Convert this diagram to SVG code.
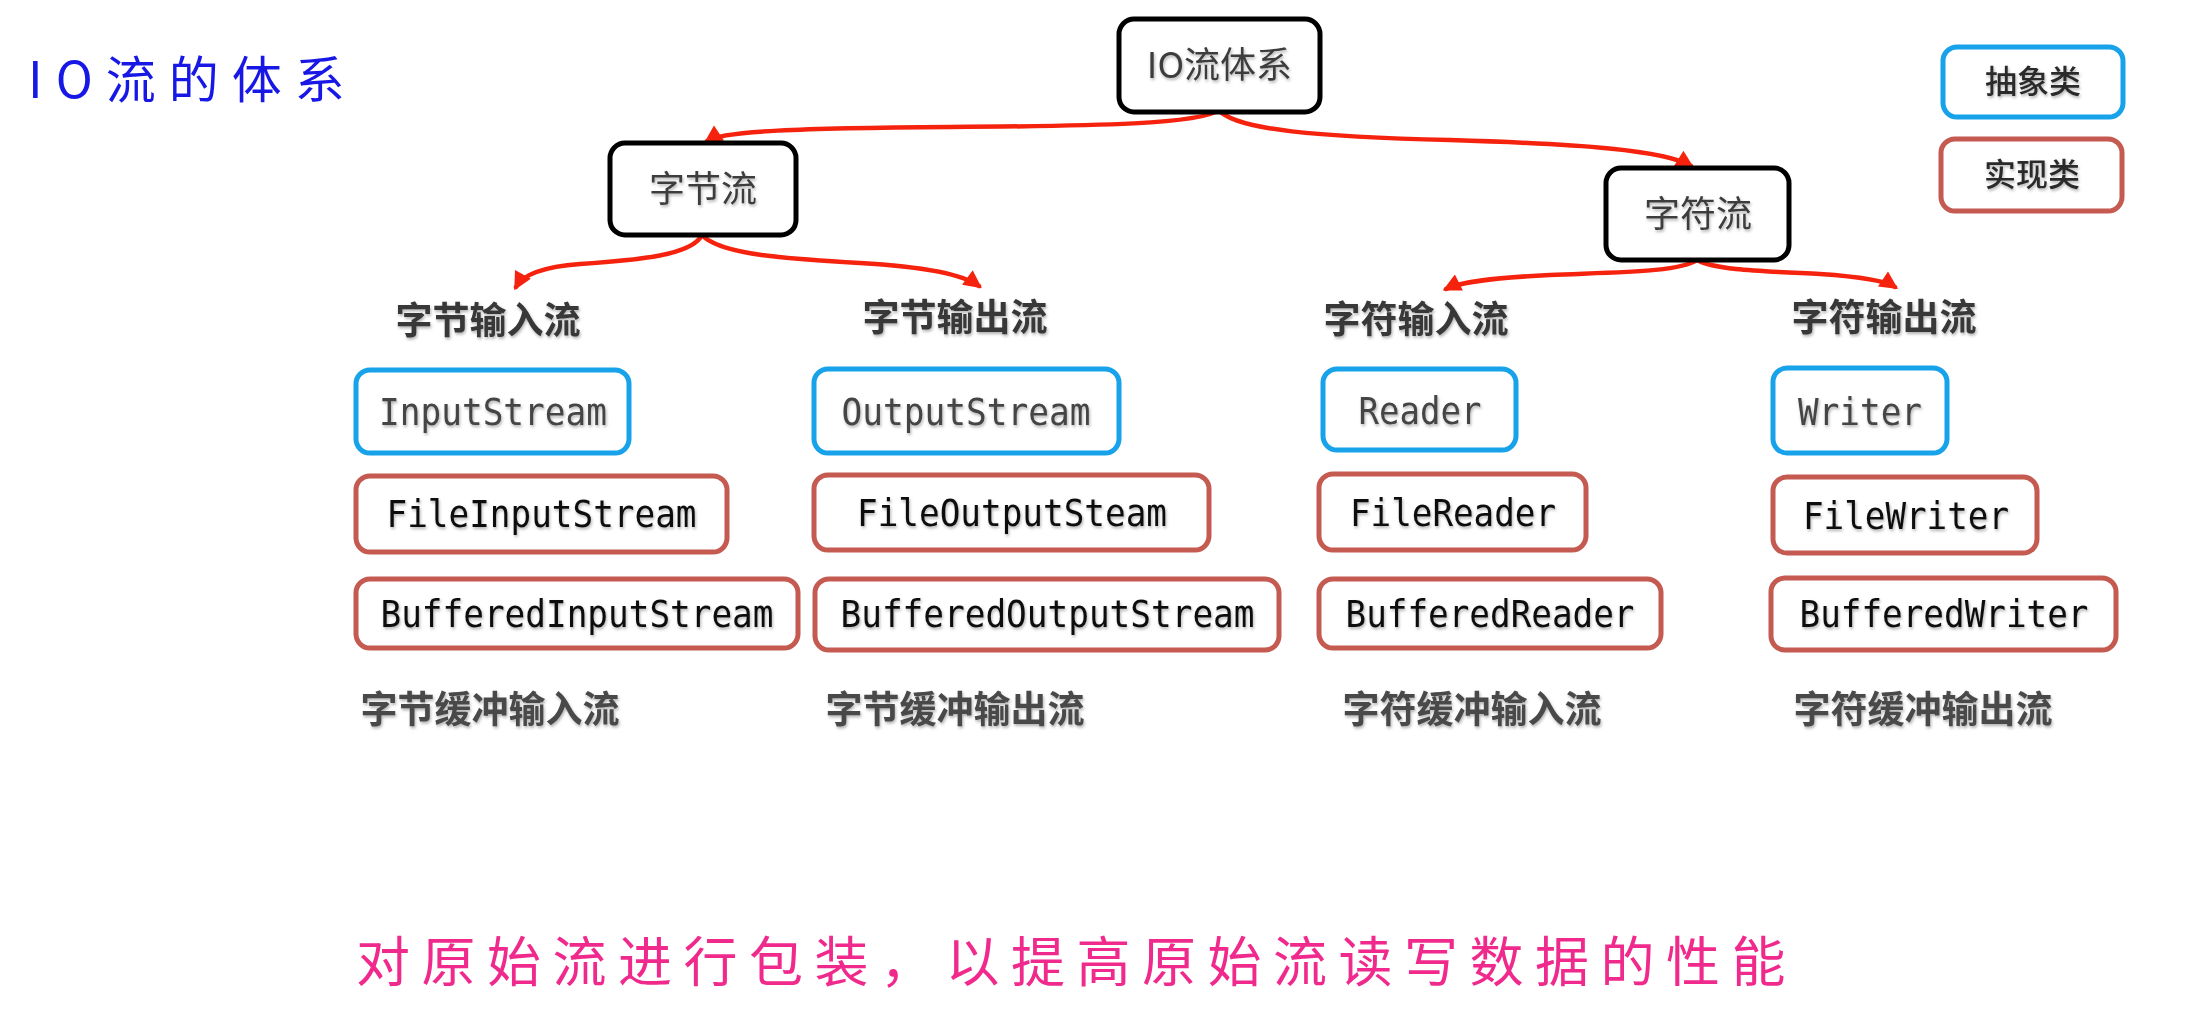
<svg xmlns="http://www.w3.org/2000/svg" width="2187" height="1015" viewBox="0 0 2187 1015">
<defs>
<style>
.bg{fill:#ffffff}
.hub{fill:#ffffff;stroke:#000000;stroke-width:5}
.abs{fill:#ffffff;stroke:#17a2ea;stroke-width:5}
.impl{fill:#ffffff;stroke:#c45a50;stroke-width:5}
.hubt{font-family:"Noto Sans CJK SC","Noto Sans",sans-serif;font-size:36px;fill:#3c3c3c;text-anchor:middle;filter:url(#sh)}
.legt{font-family:"Noto Sans CJK SC","Noto Sans",sans-serif;font-size:32px;font-weight:500;fill:#2a2a2a;text-anchor:middle;filter:url(#sh)}
.code{font-family:"DejaVu Sans Mono","Liberation Mono",monospace;font-size:37px;text-anchor:middle;filter:url(#sh)}
.codea{fill:#444444}
.codei{fill:#111111}
.head{font-family:"Noto Sans CJK SC","Noto Sans",sans-serif;font-size:37px;font-weight:700;fill:#383838;text-anchor:middle;filter:url(#sh)}
.sub{font-family:"Noto Sans CJK SC","Noto Sans",sans-serif;font-size:37px;font-weight:700;fill:#4a4a4a;text-anchor:middle;filter:url(#sh)}
.conn{fill:none;stroke:#f5220e;stroke-width:4.5;stroke-linecap:round;marker-end:url(#arr)}
.title{font-family:"Noto Sans CJK SC","Noto Sans",sans-serif;font-size:50px;fill:#1818e6;letter-spacing:13px}
.note{font-family:"Noto Sans CJK SC","Noto Sans",sans-serif;font-size:54px;fill:#f02a8c;letter-spacing:11.5px}
</style>
<filter id="sh" x="-10%" y="-30%" width="120%" height="160%">
<feDropShadow dx="1" dy="2" stdDeviation="1.5" flood-color="#000000" flood-opacity="0.3"/>
</filter>
<marker id="arr" viewBox="0 0 10 10" refX="8" refY="5" markerWidth="22" markerHeight="18" markerUnits="userSpaceOnUse" orient="auto">
<path d="M0,0 L10,5 L0,10 z" fill="#f5220e"/>
</marker>
</defs>
<rect class="bg" x="0" y="0" width="2187" height="1015"/>

<g id="title">
<text class="title" x="28" y="98">IO流的体系</text>
</g>

<g id="connectors">
<path class="conn" d="M1219,110 C1200,124 1100,126 950,127 C800,128 722,131 707,141"/>
<path class="conn" d="M1219,110 C1235,130 1320,137 1450,140 C1580,144 1665,150 1691,166"/>
<path class="conn" d="M702,235 C692,255 640,260 580,264 C540,267 522,276 516,287"/>
<path class="conn" d="M702,235 C720,255 790,259 860,263 C930,267 964,275 979,286"/>
<path class="conn" d="M1697,260 C1680,272 1620,272 1550,275 C1490,278 1460,282 1446,289"/>
<path class="conn" d="M1697,260 C1715,270 1760,271 1820,274 C1865,277 1886,281 1895,287"/>
</g>

<g id="node-io">
<rect class="hub" x="1119" y="19" width="201" height="93" rx="15"/>
<text class="hubt" x="1219.5" y="78">IO流体系</text>
</g>
<g id="node-byte">
<rect class="hub" x="610" y="143" width="186" height="92" rx="15"/>
<text class="hubt" x="703" y="202">字节流</text>
</g>
<g id="node-char">
<rect class="hub" x="1606" y="168" width="183" height="92" rx="15"/>
<text class="hubt" x="1698" y="227">字符流</text>
</g>

<g id="legend-abstract">
<rect class="abs" x="1943" y="47" width="180" height="70" rx="14"/>
<text class="legt" x="2033" y="93">抽象类</text>
</g>
<g id="legend-impl">
<rect class="impl" x="1941" y="139" width="181" height="72" rx="14"/>
<text class="legt" x="2032" y="186">实现类</text>
</g>

<g id="label-byte-in"><text class="head" x="488" y="334">字节输入流</text></g>
<g id="label-byte-out"><text class="head" x="955" y="331">字节输出流</text></g>
<g id="label-char-in"><text class="head" x="1416" y="333">字符输入流</text></g>
<g id="label-char-out"><text class="head" x="1884" y="331">字符输出流</text></g>

<g id="node-inputstream">
<rect class="abs" x="356" y="370" width="273" height="83" rx="14"/>
<text class="code codea" x="493" y="425" textLength="228" lengthAdjust="spacingAndGlyphs">InputStream</text>
</g>
<g id="node-fileinputstream">
<rect class="impl" x="356" y="476" width="371" height="76" rx="14"/>
<text class="code codei" x="541.5" y="527" textLength="310" lengthAdjust="spacingAndGlyphs">FileInputStream</text>
</g>
<g id="node-bufferedinputstream">
<rect class="impl" x="356" y="579" width="442" height="69" rx="14"/>
<text class="code codei" x="577" y="627" textLength="393" lengthAdjust="spacingAndGlyphs">BufferedInputStream</text>
</g>

<g id="node-outputstream">
<rect class="abs" x="814" y="369" width="305" height="84" rx="14"/>
<text class="code codea" x="966" y="425" textLength="249" lengthAdjust="spacingAndGlyphs">OutputStream</text>
</g>
<g id="node-fileoutputsteam">
<rect class="impl" x="814" y="475" width="395" height="75" rx="14"/>
<text class="code codei" x="1012" y="526" textLength="310" lengthAdjust="spacingAndGlyphs">FileOutputSteam</text>
</g>
<g id="node-bufferedoutputstream">
<rect class="impl" x="815" y="579" width="464" height="71" rx="14"/>
<text class="code codei" x="1047.5" y="627" textLength="414" lengthAdjust="spacingAndGlyphs">BufferedOutputStream</text>
</g>

<g id="node-reader">
<rect class="abs" x="1323" y="369" width="193" height="81" rx="14"/>
<text class="code codea" x="1420" y="424" textLength="123" lengthAdjust="spacingAndGlyphs">Reader</text>
</g>
<g id="node-filereader">
<rect class="impl" x="1319" y="474" width="267" height="76" rx="14"/>
<text class="code codei" x="1453" y="526" textLength="206" lengthAdjust="spacingAndGlyphs">FileReader</text>
</g>
<g id="node-bufferedreader">
<rect class="impl" x="1319" y="579" width="342" height="69" rx="14"/>
<text class="code codei" x="1490" y="627" textLength="289" lengthAdjust="spacingAndGlyphs">BufferedReader</text>
</g>

<g id="node-writer">
<rect class="abs" x="1773" y="368" width="174" height="85" rx="14"/>
<text class="code codea" x="1860" y="425" textLength="124" lengthAdjust="spacingAndGlyphs">Writer</text>
</g>
<g id="node-filewriter">
<rect class="impl" x="1773" y="477" width="264" height="76" rx="14"/>
<text class="code codei" x="1906" y="529" textLength="206" lengthAdjust="spacingAndGlyphs">FileWriter</text>
</g>
<g id="node-bufferedwriter">
<rect class="impl" x="1771" y="578" width="345" height="72" rx="14"/>
<text class="code codei" x="1944" y="627" textLength="289" lengthAdjust="spacingAndGlyphs">BufferedWriter</text>
</g>

<g id="label-byte-buf-in"><text class="sub" x="490" y="723">字节缓冲输入流</text></g>
<g id="label-byte-buf-out"><text class="sub" x="955" y="723">字节缓冲输出流</text></g>
<g id="label-char-buf-in"><text class="sub" x="1472" y="723">字符缓冲输入流</text></g>
<g id="label-char-buf-out"><text class="sub" x="1923" y="723">字符缓冲输出流</text></g>

<g id="note">
<text class="note" x="356" y="982">对原始流进行包装，以提高原始流读写数据的性能</text>
</g>
</svg>
